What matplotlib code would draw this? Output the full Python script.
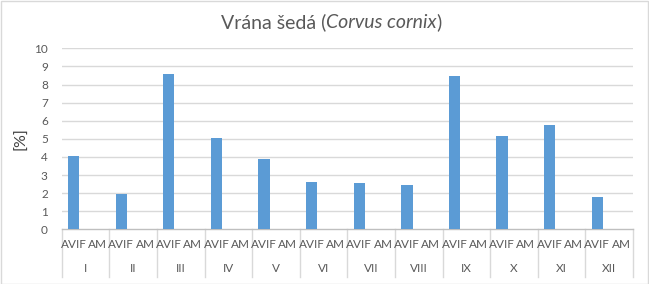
import numpy as np
import matplotlib
matplotlib.use("Agg")
from matplotlib import pyplot as plt
from matplotlib.patches import Rectangle

months = ["I", "II", "III", "IV", "V", "VI", "VII", "VIII", "IX", "X", "XI", "XII"]
subcats = ["AVIF", "AM"]
avif = [4.07, 1.96, 8.57, 5.02, 3.9, 2.63, 2.57, 2.46, 8.46, 5.13, 5.74, 1.79]
am = [0, 0, 0, 0, 0, 0, 0, 0, 0, 0, 0, 0]
yticks = [0, 1, 2, 3, 4, 5, 6, 7, 8, 9, 10]

W, H = 649, 284
fig = plt.figure(figsize=(W / 100, H / 100), dpi=100)
plt.rcParams['font.family'] = ['Lato', 'DejaVu Sans']

# chart border
fig.patches.append(Rectangle((0.5 / W, 0.5 / H), 1 - 1.5 / W, 1 - 1.5 / H, transform=fig.transFigure,
                             fill=False, ec="#d9d9d9", lw=1))

left, right = 61.7, 633
top, bottom = 48.3, 229.3
ax = fig.add_axes([left / W, 1 - bottom / H, (right - left) / W, (bottom - top) / H])

n = len(months)
x_avif = np.arange(n) * 2
x_am = x_avif + 1
ax.bar(x_avif, avif, width=0.475, color="#5b9bd5", zorder=3)
ax.bar(x_am, am, width=0.475, color="#ed7d31", zorder=3)

ax.set_xlim(-0.5, 2 * n - 0.5)
ax.set_ylim(0, 10)
ax.set_yticks(yticks)
ax.set_yticklabels([str(v) for v in yticks], color="#595959", fontsize=8.5)
ax.tick_params(axis="y", length=0, pad=10)
ax.set_xticks([])
for s in ["top", "right", "left"]:
    ax.spines[s].set_visible(False)
ax.spines["bottom"].set_color("#bfbfbf")
ax.spines["bottom"].set_linewidth(1)
for v in yticks[1:]:
    ax.axhline(v, color="#d9d9d9", lw=1, zorder=1)

ax.set_ylabel("[%]", fontsize=11.5, color="#404040", labelpad=4)

# multi-level category axis
trans = ax.get_xaxis_transform()
depth = -(277 - bottom) / (bottom - top)
for i in range(n + 1):
    xb = 2 * i - 0.5
    ax.plot([xb, xb], [0, depth], color="#d9d9d9", lw=1, transform=trans, clip_on=False)
for i, m in enumerate(months):
    for j, s in enumerate(subcats):
        ax.text(2 * i + j, -(244 - bottom) / (bottom - top), s, transform=trans,
                ha="center", va="center", fontsize=8.5, color="#595959")
    ax.text(2 * i + 0.5, -(268 - bottom) / (bottom - top), m, transform=trans,
            ha="center", va="center", fontsize=8.5, color="#595959")

# title with italic latin name
parts = [("Vrána šedá (", "normal"), ("Corvus cornix", "italic"), (")", "normal")]
ty = 1 - 22 / H
texts = [fig.text(0, ty, p, fontsize=14, style=st, color="#595959", va="center") for p, st in parts]
fig.canvas.draw()
r = fig.canvas.get_renderer()
widths = [t.get_window_extent(r).width for t in texts]
x0 = (W / 2 + 7 - sum(widths) / 2)
for t, w in zip(texts, widths):
    t.set_x(x0 / W)
    x0 += w

fig.savefig("out.png", dpi=100)
